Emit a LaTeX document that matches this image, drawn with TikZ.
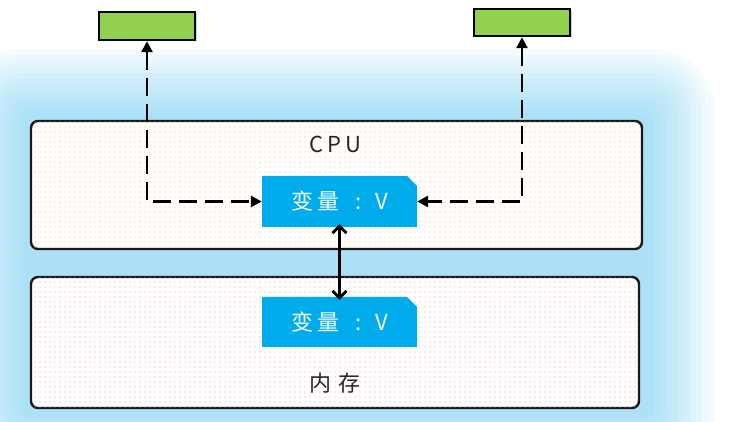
\documentclass[tikz,border=0pt]{standalone}
\usepackage{fontspec}
\newfontfamily\cjk{Noto Sans CJK SC}
\usetikzlibrary{arrows.meta,shapes.misc,patterns.meta,shadows}
\definecolor{glowc}{RGB}{85,192,238}
\definecolor{varblue}{RGB}{0,172,236}
\definecolor{grn}{RGB}{146,208,80}
\tikzset{
  panel/.style={draw=black!90, line width=2.4pt, rounded corners=7pt, inner sep=0pt},
  cpupanel/.style={panel, fill=white, postaction={pattern={Dots[distance=5pt,radius=0.6pt]}, pattern color=orange!55}},
  mempanel/.style={panel, fill=white, postaction={pattern={Dots[distance=5pt,radius=0.6pt]}, pattern color=red!40}},
  greenbox/.style={draw=black, line width=2.4pt, fill=grn, minimum width=96pt, minimum height=28pt, inner sep=0pt,
    drop shadow={opacity=0.35, shadow xshift=1.5pt, shadow yshift=-1.5pt}},
  varbox/.style={chamfered rectangle, chamfered rectangle corners=north east, chamfered rectangle xsep=7pt,
    fill=varblue, draw=none, minimum width=155pt, minimum height=51pt, inner sep=0pt,
    text=white, font=\cjk\fontsize{22}{22}\selectfont},
  dasharrow/.style={line width=2.8pt, dash pattern=on 18pt off 8pt, {Triangle[length=11pt,width=11pt]}-{Triangle[length=11pt,width=11pt]}},
  busarrow/.style={line width=2.8pt, {Straight Barb[length=7pt,width=14pt]}-{Straight Barb[length=7pt,width=14pt]}},
  lbl/.style={font=\cjk\fontsize{22}{22}\selectfont, text=black!85}
}
\newcommand{\vartext}{变\hspace{4pt}量\hspace{16pt}:\hspace{14pt}V}
\begin{document}
\begin{tikzpicture}[x=1pt,y=-1pt]
\useasboundingbox (0,0) rectangle (729,422);
\clip (0,0) rectangle (729,422);
% glow
\foreach \k in {1,...,12}{
  \fill[glowc, opacity=0.055, rounded corners=\k*5pt] ({31-\k*6},{121-\k*6}) rectangle ({642+\k*6},{408+\k*6});
}
\node[cpupanel, minimum width=611pt, minimum height=128pt] (cpu) at (336.5,185) {};
\node[mempanel, minimum width=608pt, minimum height=131pt] (mem) at (335,342.5) {};
\node[lbl] (cputxt) at (335,144) {C\hspace{4pt}P\hspace{4pt}U};
\node[lbl] (memtxt) at (335,383) {内\hspace{8pt}存};
\node[greenbox] (g1) at (147,26) {};
\node[greenbox, minimum height=27pt] (g2) at (522,22.5) {};
\node[varbox] (v1) at (339.5,201.5) {\vartext};
\node[varbox, minimum height=50pt] (v2) at (339.5,322) {\vartext};
\draw[dasharrow] (g1.south) |- (v1.west);
\draw[dasharrow] (g2.south) |- (v1.east);
\draw[busarrow] ([yshift=3pt]v1.south) -- ([yshift=-3pt]v2.north);
\end{tikzpicture}
\end{document}
